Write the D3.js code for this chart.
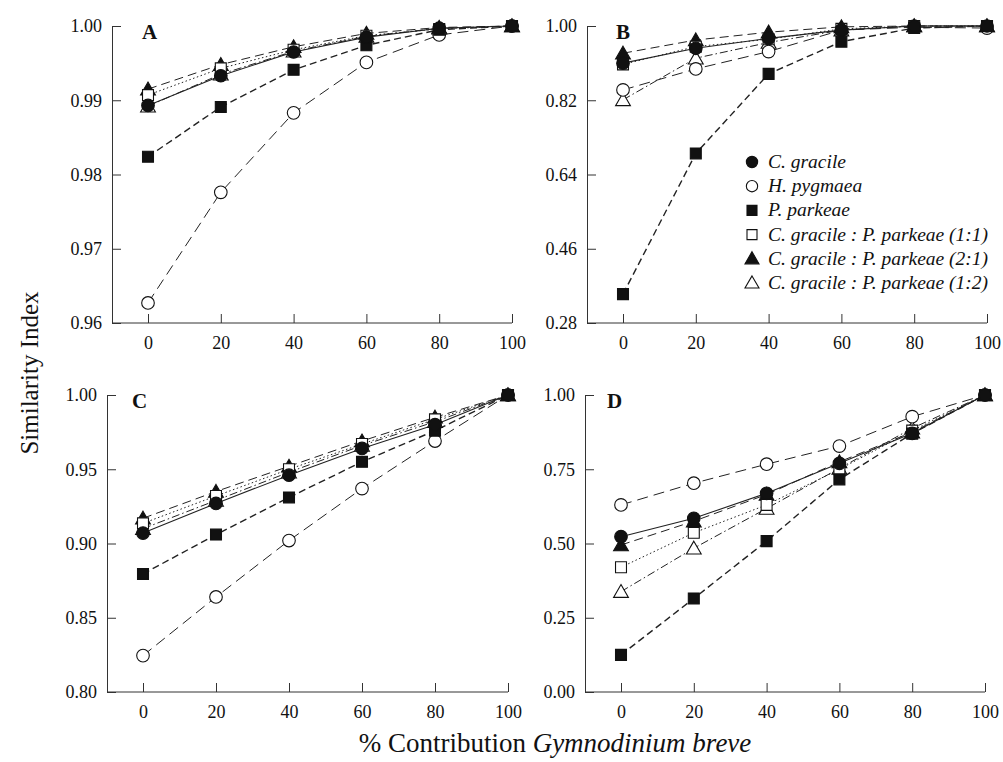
<!DOCTYPE html>
<html>
<head>
<meta charset="utf-8">
<script src="https://cdnjs.cloudflare.com/ajax/libs/d3/7.8.5/d3.min.js"></script>
<style>
  body { margin: 0; background: #fff; }
  svg { display: block; }
  text { font-family: "Liberation Serif", "DejaVu Serif", serif; fill: #111; }
</style>
</head>
<body>
<div id="chart"></div>
<script>
// % contribution of G. breve
var contribution = [0, 20, 40, 60, 80, 100];

var seriesNames = ["C. gracile", "H. pygmaea", "P. parkeae",
    "C. gracile : P. parkeae (1:1)", "C. gracile : P. parkeae (2:1)", "C. gracile : P. parkeae (1:2)"];

// panel A
var aGracile  = [0.9893, 0.9933, 0.9965, 0.9985, 0.9997, 1.0];
var aPygmaea  = [0.9627, 0.9776, 0.9883, 0.9951, 0.9988, 1.0];
var aParkeae  = [0.9824, 0.9891, 0.9941, 0.9974, 0.9995, 1.0];
var a11       = [0.9907, 0.9943, 0.9968, 0.9987, 0.9996, 1.0];
var a21       = [0.9915, 0.9948, 0.9972, 0.9990, 0.9998, 1.0];
var a12       = [0.9892, 0.9935, 0.9966, 0.9986, 0.9997, 1.0];

// panel B
var bGracile  = [0.910, 0.946, 0.970, 0.990, 1.0, 1.0];
var bPygmaea  = [0.845, 0.896, 0.938, 0.990, 0.997, 0.995];
var bParkeae  = [0.350, 0.691, 0.884, 0.962, 0.995, 1.0];
var b11       = [0.907, 0.950, 0.968, 0.993, 1.0, 1.0];
var b21       = [0.934, 0.966, 0.985, 0.998, 1.0, 1.0];
var b12       = [0.821, 0.922, 0.960, 0.990, 1.0, 1.0];

// panel C
var cGracile  = [0.907, 0.927, 0.946, 0.964, 0.980, 1.0];
var cPygmaea  = [0.8245, 0.864, 0.902, 0.937, 0.969, 1.0];
var cParkeae  = [0.8795, 0.906, 0.931, 0.955, 0.976, 1.0];
var c11       = [0.9136, 0.932, 0.950, 0.967, 0.9836, 1.0];
var c21       = [0.917, 0.935, 0.952, 0.969, 0.985, 1.0];
var c12       = [0.910, 0.929, 0.948, 0.966, 0.982, 1.0];

// panel D
var dGracile  = [0.523, 0.585, 0.669, 0.770, 0.871, 1.0];
var dPygmaea  = [0.630, 0.703, 0.767, 0.828, 0.927, 1.0];
var dParkeae  = [0.125, 0.315, 0.508, 0.716, 0.870, 1.0];
var d11       = [0.420, 0.536, 0.630, 0.750, 0.880, 1.0];
var d21       = [0.495, 0.575, 0.665, 0.775, 0.875, 1.0];
var d12       = [0.338, 0.484, 0.618, 0.753, 0.888, 1.0];

var aTicks = [0.96, 0.97, 0.98, 0.99, 1.00];
var bTicks = [0.28, 0.46, 0.64, 0.82, 1.00];
var cTicks = [0.80, 0.85, 0.90, 0.95, 1.00];
var dTicks = [0.00, 0.25, 0.50, 0.75, 1.00];

var panels = [
    { letter: "A", left: 112, top: 26, x0: 148, x1: 512, letterDx: 30, ticks: aTicks,
      series: [aGracile, aPygmaea, aParkeae, a11, a21, a12] },
    { letter: "B", left: 587, top: 26, x0: 623, x1: 987, letterDx: 29, ticks: bTicks,
      series: [bGracile, bPygmaea, bParkeae, b11, b21, b12] },
    { letter: "C", left: 107, top: 395, x0: 143, x1: 508, letterDx: 25, ticks: cTicks,
      series: [cGracile, cPygmaea, cParkeae, c11, c21, c12] },
    { letter: "D", left: 585, top: 395, x0: 621, x1: 985, letterDx: 22, ticks: dTicks,
      series: [dGracile, dPygmaea, dParkeae, d11, d21, d12] }
];

var plotH = 297;

// marker + line style for each series
var styles = [
    { shape: "circle",   fill: "#111", dash: null,          width: 1.1 },
    { shape: "circle",   fill: "#fff", dash: "11,6",        width: 1.0 },
    { shape: "square",   fill: "#111", dash: "7,4",         width: 1.4 },
    { shape: "square",   fill: "#fff", dash: "1.5,2.5",     width: 1.0 },
    { shape: "triangle", fill: "#111", dash: "9,5",         width: 1.0 },
    { shape: "triangle", fill: "#fff", dash: "8,3,1.5,3",   width: 1.0 }
];

var symbolFor = {
    circle: d3.symbol().type(d3.symbolCircle).size(125),
    square: d3.symbol().type(d3.symbolSquare).size(120),
    triangle: d3.symbol().type(d3.symbolTriangle).size(95)
};

var svg = d3.select("#chart").append("svg")
    .attr("width", 1003).attr("height", 762);

panels.forEach(function (p) {
    var y = d3.scaleLinear().domain([p.ticks[0], p.ticks[p.ticks.length - 1]])
        .range([p.top + plotH, p.top]);
    var x = d3.scaleLinear().domain([0, 100]).range([p.x0, p.x1]);
    var bottom = p.top + plotH;

    var g = svg.append("g");

    // y axis
    var ya = g.append("g").attr("transform", "translate(" + p.left + ",0)")
        .call(d3.axisLeft(y).tickValues(p.ticks).tickFormat(d3.format(".2f"))
            .tickSizeInner(-9).tickSizeOuter(0).tickPadding(10));
    ya.select(".domain").attr("stroke", "#333");
    ya.selectAll(".tick line").attr("stroke", "#333");
    ya.selectAll("text").attr("font-size", 18).attr("font-family", "Liberation Serif").attr("fill", "#111");

    // x axis
    var xa = g.append("g").attr("transform", "translate(0," + bottom + ")")
        .call(d3.axisBottom(x).tickValues(contribution)
            .tickSizeInner(-9).tickSizeOuter(0).tickPadding(13));
    xa.select(".domain").attr("d", "M" + p.left + ",0H" + p.x1).attr("stroke", "#333");
    xa.selectAll(".tick line").attr("stroke", "#333");
    xa.selectAll("text").attr("font-size", 18).attr("font-family", "Liberation Serif").attr("fill", "#111");

    g.append("text").attr("x", p.left + p.letterDx).attr("y", p.top + 13)
        .attr("font-size", 21).attr("font-weight", "bold").text(p.letter);

    var line = d3.line().x(function (d, i) { return x(contribution[i]); }).y(function (d) { return y(d); });

    // draw in reverse so C. gracile / parkeae come out on top like the original
    var order = [5, 4, 3, 1, 2, 0];
    order.forEach(function (k) {
        var st = styles[k];
        g.append("path").datum(p.series[k])
            .attr("d", line).attr("fill", "none").attr("stroke", "#222")
            .attr("stroke-width", st.width)
            .attr("stroke-dasharray", st.dash);
    });
    order.forEach(function (k) {
        var st = styles[k];
        g.selectAll(null).data(p.series[k]).enter().append("path")
            .attr("d", symbolFor[st.shape])
            .attr("transform", function (d, i) {
                return "translate(" + x(contribution[i]) + "," + (y(d) + (st.shape === "triangle" ? 1.5 : 0)) + ")";
            })
            .attr("fill", st.fill).attr("stroke", "#111").attr("stroke-width", 1.1);
    });
});

// legend in panel B
var legend = svg.append("g").attr("transform", "translate(752,162)");
seriesNames.forEach(function (name, i) {
    var st = styles[i];
    var row = legend.append("g").attr("transform", "translate(0," + (i * 24.2) + ")");
    row.append("path")
        .attr("d", d3.symbol().type(st.shape === "circle" ? d3.symbolCircle :
            st.shape === "square" ? d3.symbolSquare : d3.symbolTriangle).size(st.shape === "triangle" ? 85 : 100))
        .attr("transform", "translate(0," + (st.shape === "triangle" ? 1 : 0) + ")")
        .attr("fill", st.fill).attr("stroke", "#111").attr("stroke-width", 1.1);
    row.append("text").attr("x", 16).attr("y", 6)
        .attr("font-size", 19.5).attr("font-style", "italic").text(name);
});

// axis titles
svg.append("text")
    .attr("transform", "translate(38,373) rotate(-90)")
    .attr("text-anchor", "middle").attr("font-size", 25)
    .text("Similarity Index");

var xt = svg.append("text").attr("x", 555).attr("y", 752)
    .attr("text-anchor", "middle").attr("font-size", 27);
xt.append("tspan").text("% Contribution ");
xt.append("tspan").attr("font-style", "italic").text("Gymnodinium breve");
</script>
</body>
</html>
